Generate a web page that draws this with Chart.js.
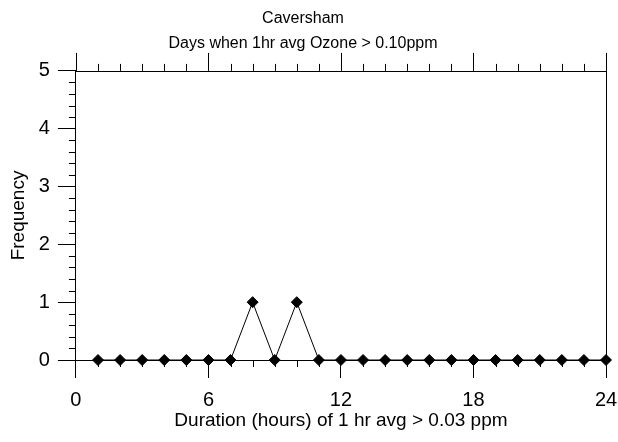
<!DOCTYPE html>
<html>
<head>
<meta charset="utf-8">
<script src="https://cdn.jsdelivr.net/npm/chart.js@4/dist/chart.umd.min.js"></script>
<style>
  html, body { margin: 0; padding: 0; background: #fff; }
  #wrap { width: 618px; height: 442px; }
</style>
</head>
<body>
<div id="wrap"><canvas id="chart" width="618" height="442"></canvas></div>
<script>
const durations = [1, 2, 3, 4, 5, 6, 7, 8, 9, 10, 11, 12, 13, 14, 15, 16, 17, 18, 19, 20, 21, 22, 23, 24];
const frequency = [0, 0, 0, 0, 0, 0, 0, 1, 0, 1, 0, 0, 0, 0, 0, 0, 0, 0, 0, 0, 0, 0, 0, 0];
const titleLines = ['Caversham', 'Days when 1hr avg Ozone > 0.10ppm'];
const xTitle = 'Duration (hours) of 1 hr avg > 0.03 ppm';
const yTitle = 'Frequency';

const FONT = "'Liberation Sans', Arial, Helvetica, sans-serif";

// frame: top and right border, plus the small ticks
const framePlugin = {
    id: 'frame',
    beforeDatasetsDraw(chart) {
        const ctx = chart.ctx;
        const { left, right, top, bottom } = chart.chartArea;
        const x = chart.scales.x;
        const y = chart.scales.y;
        ctx.save();
        ctx.strokeStyle = '#000';
        ctx.lineWidth = 1;
        ctx.beginPath();
        ctx.moveTo(left, Math.round(top) + 0.5);
        ctx.lineTo(right, Math.round(top) + 0.5);
        ctx.moveTo(Math.round(right) + 0.5, top);
        ctx.lineTo(Math.round(right) + 0.5, bottom);
        for (let v = 0; v <= 24; v++) {
            const px = Math.round(x.getPixelForValue(v)) + 0.5;
            const major = v % 6 === 0;
            ctx.moveTo(px, top);
            ctx.lineTo(px, top - (major ? 18 : 7));
            if (!major) {
                ctx.moveTo(px, bottom);
                ctx.lineTo(px, bottom + 7);
            }
        }
        for (let i = 0; i <= 25; i++) {
            if (i % 5 === 0) continue;
            const py = Math.round(y.getPixelForValue(i / 5)) + 0.5;
            ctx.moveTo(left, py);
            ctx.lineTo(left - 7, py);
        }
        ctx.stroke();
        ctx.restore();
    }
};

new Chart(document.getElementById('chart'), {
    type: 'line',
    data: {
        datasets: [{
            data: durations.map((d, i) => ({ x: d, y: frequency[i] })),
            borderColor: '#000',
            borderWidth: 1,
            backgroundColor: '#000',
            pointStyle: 'rectRot',
            pointRadius: 5.5,
            pointBorderWidth: 1,
            pointBackgroundColor: '#000',
            pointBorderColor: '#000',
            tension: 0,
            clip: false,
        }]
    },
    options: {
        responsive: false,
        animation: false,
        layout: {
            padding: { left: 0, right: 12, top: 0, bottom: 0 }
        },
        plugins: {
            legend: { display: false },
            tooltip: { enabled: false },
            title: {
                display: true,
                text: titleLines,
                color: '#000',
                font: { family: FONT, size: 16, weight: 'normal', lineHeight: 1.56 },
                padding: { top: 6, bottom: 15 },
            },
        },
        scales: {
            x: {
                type: 'linear',
                min: 0,
                max: 24,
                afterFit(scale) {
                    scale.paddingLeft = 0;
                    scale.paddingRight = 0;
                },
                ticks: {
                    stepSize: 6,
                    color: '#000',
                    padding: 10,
                    font: { family: FONT, size: 20 },
                },
                grid: {
                    drawOnChartArea: false,
                    drawTicks: true,
                    tickLength: 18,
                    color: '#000',
                },
                border: { display: true, color: '#000' },
                title: {
                    display: true,
                    text: xTitle,
                    color: '#000',
                    font: { family: FONT, size: 19, lineHeight: 1.0 },
                    padding: { top: -11, bottom: 12 },
                },
            },
            y: {
                min: 0,
                max: 5,
                ticks: {
                    stepSize: 1,
                    color: '#000',
                    padding: 8,
                    font: { family: FONT, size: 20 },
                },
                grid: {
                    drawOnChartArea: false,
                    drawTicks: true,
                    tickLength: 18,
                    color: '#000',
                },
                border: { display: true, color: '#000' },
                title: {
                    display: true,
                    text: yTitle,
                    color: '#000',
                    font: { family: FONT, size: 19, lineHeight: 1.2 },
                    padding: { top: 7, bottom: 1 },
                },
            },
        },
    },
    plugins: [framePlugin],
});
</script>
</body>
</html>
